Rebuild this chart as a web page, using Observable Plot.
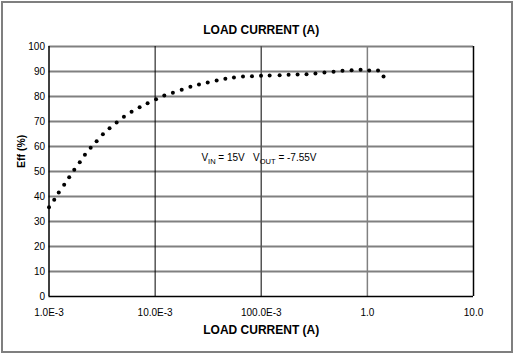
<!DOCTYPE html>
<html>
<head>
<meta charset="utf-8">
<script src="https://cdn.jsdelivr.net/npm/d3@7"></script>
<script src="https://cdn.jsdelivr.net/npm/@observablehq/plot@0.6"></script>
<style>
  html, body { margin: 0; padding: 0; background: #fff; }
  #wrap { position: relative; width: 517px; height: 356px; overflow: hidden; font-family: "Liberation Sans", Arial, sans-serif; }
  #wrap svg { position: absolute; left: 0; top: 0; }
  #frame { position: absolute; left: 1px; top: 1px; width: 512px; height: 352px; box-sizing: border-box; border: 2px solid #7f7f7f; pointer-events: none; }
</style>
</head>
<body>
<div id="wrap"><div id="frame"></div></div>
<script>
// Load current (A)
const current = [
  1.00e-3, 1.12e-3, 1.236e-3, 1.39e-3, 1.55e-3, 1.73e-3, 1.95e-3, 2.18e-3, 2.47e-3, 2.81e-3,
  3.22e-3, 3.72e-3, 4.34e-3, 5.08e-3, 6.0e-3, 7.14e-3, 8.49e-3, 10.2e-3, 12.2e-3, 14.7e-3,
  17.8e-3, 21.5e-3, 25.9e-3, 31.3e-3, 38.0e-3, 45.9e-3, 55.3e-3, 67.3e-3, 81.8e-3, 99.5e-3,
  0.120, 0.149, 0.181, 0.220, 0.267, 0.324, 0.394, 0.480, 0.583, 0.710,
  0.863, 1.04, 1.26, 1.42
];
// Efficiency (%)
const efficiency = [
  35.7, 38.7, 41.6, 44.7, 47.7, 50.7, 53.7, 56.7, 59.5, 62.1,
  64.9, 67.3, 69.6, 71.9, 73.9, 75.7, 77.3, 78.9, 80.4, 81.5,
  82.7, 83.9, 84.8, 85.6, 86.4, 87.1, 87.6, 88.0, 88.1, 88.3,
  88.4, 88.5, 88.7, 88.8, 88.9, 89.2, 89.6, 89.9, 90.3, 90.5,
  90.7, 90.4, 90.4, 88.0
];
const xTicks = [1e-3, 1e-2, 1e-1, 1, 10];
const xTickLabels = ["1.0E-3", "10.0E-3", "100.0E-3", "1.0", "10.0"];
const yTicks = [0, 10, 20, 30, 40, 50, 60, 70, 80, 90, 100];
const yGrid = [10, 20, 30, 40, 50, 60, 70, 80, 90, 100];
const titleText = "LOAD CURRENT (A)";
const xLabelText = "LOAD CURRENT (A)";
const yLabelText = "Eff (%)";
// annotation: [text, isSubscript]
const annotParts = [["V", false], ["IN", true], [" = 15V\u00a0\u00a0 V", false], ["OUT", true], [" = -7.55V", false]];
const annotPos = {x: 0.0273, y: 55.6};

const data = current.map((c, i) => ({current: c, eff: efficiency[i]}));
const annotPlain = annotParts.map(d => d[0]).join("");

const vRules = [
  {x: 1e-2, stroke: "#000", w: 1},
  {x: 1e-1, stroke: "#555", w: 1.5},
  {x: 1, stroke: "#808080", w: 1.5},
  {x: 10, stroke: "#000", w: 1.5}
];

const chart = Plot.plot({
  width: 517,
  height: 356,
  marginLeft: 48.5,
  marginRight: 44,
  marginTop: 46,
  marginBottom: 60,
  style: {fontFamily: "'Liberation Sans', Arial, sans-serif", background: "transparent", color: "#000"},
  x: {type: "log", domain: [1e-3, 10]},
  y: {domain: [0, 100]},
  marks: [
    Plot.ruleY(yGrid, {stroke: "#808080", strokeWidth: 2}),
    Plot.ruleX(vRules, {x: "x", stroke: "stroke", strokeWidth: "w"}),
    Plot.ruleX([1e-3], {stroke: "#000", strokeWidth: 1.5}),
    Plot.ruleY([0], {stroke: "#000", strokeWidth: 1.5}),
    Plot.axisX({ticks: xTicks, tickFormat: (d, i) => xTickLabels[xTicks.indexOf(d)], tickSize: 0, tickPadding: 12, fontSize: 10, label: null}),
    Plot.axisY({ticks: yTicks, tickSize: 0, tickPadding: 4, fontSize: 10, label: null}),
    Plot.dot(data, {x: "current", y: "eff", r: 2, fill: "#000", stroke: "none"}),
    Plot.text([titleText], {frameAnchor: "top", dy: -21, fontWeight: "bold", fontSize: 12}),
    Plot.text([xLabelText], {frameAnchor: "bottom", dy: 37, fontWeight: "bold", fontSize: 12}),
    Plot.text([yLabelText], {frameAnchor: "left", dx: -27, dy: -3.5, rotate: -90, fontWeight: "bold", fontSize: 10.5}),
    Plot.text([annotPlain], {x: () => annotPos.x, y: () => annotPos.y, textAnchor: "start", fontSize: 10})
  ]
});

document.getElementById("wrap").prepend(chart);

// subscripts in the annotation
d3.select(chart).selectAll("text").filter(function() { return this.textContent === annotPlain; }).each(function() {
  const t = d3.select(this);
  t.text(null);
  annotParts.forEach(([s, sub]) => {
    const ts = t.append("tspan").text(s);
    if (sub) ts.attr("font-size", 7.5).attr("dy", "3");
    else ts.attr("dy", t.selectAll("tspan").size() > 1 ? "-3" : null);
  });
});
</script>
</body>
</html>
